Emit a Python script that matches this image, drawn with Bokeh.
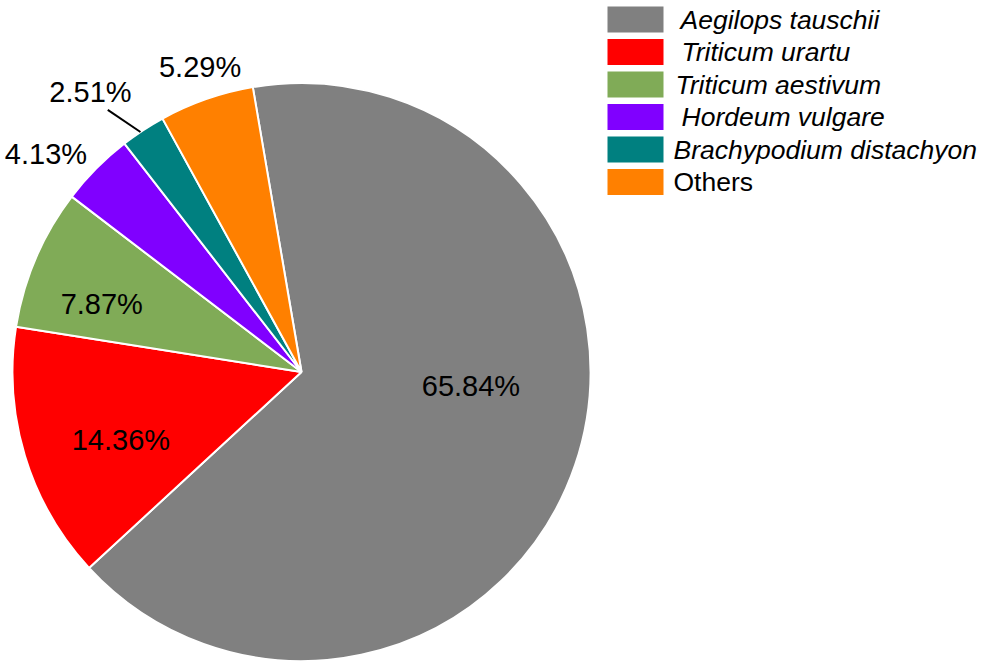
import numpy as np
from bokeh.plotting import figure
from bokeh.models import ColumnDataSource, Range1d
from bokeh.core.properties import value
from bokeh.embed import file_html
from bokeh.resources import INLINE

# ---- data ----
species = ["Aegilops tauschii", "Triticum urartu", "Triticum aestivum",
           "Hordeum vulgare", "Brachypodium distachyon", "Others"]
percent = [65.84, 14.36, 7.87, 4.13, 2.51, 5.29]
pct_labels = ["65.84%", "14.36%", "7.87%", "4.13%", "2.51%", "5.29%"]
colors = ["#808080", "#FF0000", "#80AB57", "#8000FF", "#008080", "#FF8000"]
legend_style = ["italic", "italic", "italic", "italic", "italic", "normal"]

# ---- layout / style ----
W, H = 981, 666
CX, CY, R = 301, 294.5, 289          # pie centre and radius (px)
START_DEG = 99.7                      # first slice starts here, slices go clockwise
label_r = [170, 193, 211, 336, 351, 321]          # label distance from centre
label_nudge = [14.1, 3.8, 4.4, 4.3, 3.7, -0.8]    # degrees added to mid-angle
legend_indent = [7, 8, 2, 8, 0, 0]
LEG_X, LEG_Y0, LEG_DY = 635, 647, 32.5
LEG_W, LEG_H = 56, 26

frac = np.array(percent) / sum(percent)
ang = frac * 2 * np.pi
cum = np.cumsum(ang)
start = np.deg2rad(START_DEG) - np.concatenate([[0.0], cum[:-1]])
end = np.deg2rad(START_DEG) - cum
mid = (start + end) / 2

wsrc = ColumnDataSource(dict(start=start, end=end, color=colors))

lab_ang = mid + np.deg2rad(label_nudge)
lsrc = ColumnDataSource(dict(
    x=CX + np.array(label_r) * np.cos(lab_ang),
    y=CY + np.array(label_r) * np.sin(lab_ang),
    text=pct_labels))

n = len(species)
rows = LEG_Y0 - LEG_DY * np.arange(n)
gsrc = ColumnDataSource(dict(
    x=np.full(n, LEG_X), y=rows, color=colors,
    tx=LEG_X + LEG_W / 2 + 10 + np.array(legend_indent),
    text=species, style=legend_style))

p = figure(width=W, height=H, x_range=Range1d(0, W), y_range=Range1d(0, H),
           output_backend="svg", toolbar_location=None, min_border=0)
p.axis.visible = False
p.grid.visible = False
p.outline_line_color = None
p.background_fill_color = "white"
p.border_fill_color = "white"

p.wedge(x=CX, y=CY, radius=R, start_angle="start", end_angle="end",
        direction="clock", fill_color="color", line_color="white",
        line_width=2, source=wsrc)

# leader line for the small slice (index 4)
i = 4
a0 = mid[i] + np.deg2rad(0.6)
a1 = mid[i] + np.deg2rad(3.2)
p.segment(x0=[CX + R * np.cos(a0)], y0=[CY + R * np.sin(a0)],
          x1=[CX + 326 * np.cos(a1)], y1=[CY + 326 * np.sin(a1)],
          line_color="black", line_width=2)

p.text(x="x", y="y", text="text", source=lsrc, text_align="center",
       text_baseline="middle", text_font=value("Liberation Sans"),
       text_font_size="29px", text_color="black")

p.rect(x="x", y="y", width=LEG_W, height=LEG_H, fill_color="color",
       line_color=None, source=gsrc)
p.text(x="tx", y="y", text="text", source=gsrc, text_align="left",
       text_baseline="middle", text_font=value("Liberation Sans"),
       text_font_size="26.5px", text_font_style="style", text_color="black")

open("out.html", "w").write(file_html(p, INLINE))
